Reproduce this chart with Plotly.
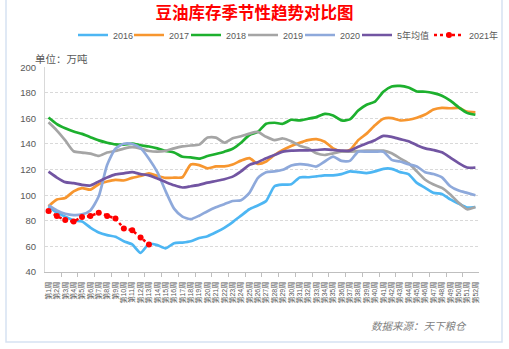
import plotly.graph_objects as go

weeks = list(range(1, 53))
week_labels = [f"第{w}周" for w in weeks]

s2016 = [91.4, 86.3, 83.2, 80.4, 79.4, 74.7, 70.9, 68.8, 67.5, 64.0,
         61.5, 55.0, 62.0, 61.0, 58.5, 62.5, 63.0, 64.0, 66.5, 68.0,
         71.0, 74.5, 79.0, 84.0, 89.0, 92.0, 95.5, 107.0, 108.3, 108.5,
         113.9, 114.0, 114.7, 115.5, 115.5, 116.5, 118.6, 118.0, 117.3, 118.6,
         120.6, 120.6, 118.0, 116.5, 109.6, 105.7, 101.8, 101.0, 96.7, 93.4,
         90.3, 90.8]
s2017 = [91.4, 96.6, 97.8, 103.0, 105.5, 104.3, 108.6, 110.7, 112.0, 111.5,
         113.5, 115.0, 117.0, 115.0, 113.5, 113.7, 114.0, 124.0, 123.5, 121.0,
         122.5, 122.5, 124.0, 127.0, 129.0, 124.5, 126.3, 131.4, 135.3, 138.4,
         140.9, 143.0, 143.8, 141.7, 136.6, 134.5, 135.3, 143.0, 148.1, 154.6,
         159.7, 160.2, 158.4, 158.9, 160.5, 163.0, 166.9, 168.2, 167.9, 168.2,
         165.3, 164.8]
s2018 = [160.7, 155.6, 152.3, 149.7, 147.9, 145.3, 142.8, 141.0, 139.7, 139.5,
         140.3, 139.0, 138.0, 136.6, 134.6, 133.4, 130.0, 129.5, 128.5, 130.6,
         132.2, 134.0, 136.3, 141.0, 147.0, 149.4, 155.8, 156.6, 155.8, 158.9,
         158.4, 159.7, 161.0, 163.5, 162.3, 158.4, 159.2, 166.1, 170.7, 173.1,
         180.8, 184.9, 185.4, 184.1, 181.0, 180.8, 179.7, 177.7, 173.8, 168.7,
         164.3, 162.8]
s2019 = [156.9, 150.5, 142.8, 134.3, 133.3, 132.5, 130.7, 133.3, 134.6, 136.4,
         137.5, 136.4, 134.5, 134.0, 134.6, 136.6, 138.1, 138.8, 139.5, 145.0,
         145.0, 141.0, 144.5, 146.0, 148.1, 149.4, 145.6, 143.0, 144.3, 142.2,
         138.6, 136.6, 132.7, 131.4, 132.7, 134.0, 134.0, 134.5, 134.8, 134.8,
         134.8, 132.7, 128.8, 125.0, 118.6, 112.1, 108.3, 105.7, 100.6, 94.1,
         89.0, 90.8]
s2020 = [92.2, 88.1, 85.5, 84.5, 85.0, 88.1, 99.1, 123.5, 136.4, 140.2,
         140.0, 136.9, 128.5, 118.0, 103.0, 89.5, 83.3, 81.3, 84.0, 87.5,
         90.5, 93.0, 95.5, 96.0, 101.8, 113.4, 118.0, 118.6, 119.8, 123.2,
         124.2, 123.7, 122.4, 126.3, 130.1, 126.8, 126.8, 134.0, 134.0, 134.0,
         134.0, 127.6, 126.3, 124.2, 122.4, 118.0, 116.5, 113.9, 107.0, 103.6,
         101.8, 100.0]
avg5 = [118.4, 113.8, 110.2, 109.4, 108.1, 107.6, 110.7, 113.8, 116.3, 117.1,
        118.0, 116.5, 115.5, 113.0, 110.3, 107.8, 106.0, 107.0, 108.0, 109.8,
        111.1, 112.5, 114.5, 118.6, 123.7, 125.8, 128.8, 131.4, 134.0, 134.8,
        135.0, 135.0, 135.3, 135.8, 135.3, 134.8, 134.8, 137.8, 140.4, 143.0,
        146.3, 145.6, 143.8, 142.2, 139.1, 136.6, 135.3, 133.5, 129.4, 125.0,
        121.6, 121.6]
s2021 = [87.6, 83.7, 80.6, 79.4, 83.0, 83.7, 86.3, 83.7, 81.7, 74.0,
         72.6, 67.0, 61.5]

FONT = "Liberation Sans, Noto Sans CJK SC, sans-serif"
GRAYTXT = "#595959"

names = ["2016", "2017", "2018", "2019", "2020", "5年均值"]
values = [s2016, s2017, s2018, s2019, s2020, avg5]
colors = ["#4DB6F3", "#F7962F", "#1DB02E", "#A5A5A5", "#8EA9DB", "#7255A2"]
legend_x_px = [73, 129, 186, 243, 300, 357, 429]
legend_ids = ["legend"] + [f"legend{i}" for i in range(2, 8)]

fig = go.Figure()
for i, (name, vals, color) in enumerate(zip(names, values, colors)):
    fig.add_trace(go.Scatter(
        x=weeks, y=vals, name=name, mode="lines", legend=legend_ids[i],
        line=dict(color=color, width=2.7, shape="spline", smoothing=0.6),
    ))
fig.add_trace(go.Scatter(
    x=weeks[:len(s2021)], y=s2021, name="2021年", mode="lines+markers", legend=legend_ids[6],
    line=dict(color="#FF0000", width=2.5, dash="dot"),
    marker=dict(size=6, color="#FF0000"),
))

legend_layouts = {}
for lid, px in zip(legend_ids, legend_x_px):
    legend_layouts[lid] = dict(orientation="h", xref="container", yref="container",
                               x=px / 509, y=1 - 35 / 349, xanchor="left", yanchor="middle",
                               itemwidth=30, font=dict(size=9, color=GRAYTXT),
                               bgcolor="rgba(0,0,0,0)")

fig.update_layout(
    width=509, height=349,
    margin=dict(l=45, r=30, t=64, b=77),
    paper_bgcolor="white", plot_bgcolor="white",
    font=dict(family=FONT, color=GRAYTXT),
    title=dict(text="豆油库存季节性趋势对比图", x=0.5, xref="container", xanchor="center",
               y=1 - 13 / 349, yref="container", yanchor="middle",
               font=dict(family="Noto Sans CJK SC", size=16.5, color="#FF0000", weight="bold")),
    showlegend=True,
    **legend_layouts,
)

fig.update_xaxes(
    range=[0.58, 52.43], tickmode="array", tickvals=weeks, ticktext=week_labels,
    tickangle=-90, tickfont=dict(size=7, color=GRAYTXT), ticks="", ticklabelstandoff=6,
    showline=True, linecolor="#BFBFBF", linewidth=1, showgrid=False, zeroline=False,
    minor=dict(tick0=0.5, dtick=2, ticks="outside", ticklen=4, tickcolor="#BFBFBF", showgrid=False),
)
fig.update_yaxes(
    range=[40, 200], tick0=0, dtick=20, tickfont=dict(size=9.5, color=GRAYTXT),
    ticks="", ticklabelstandoff=6,
    showgrid=True, gridcolor="#D9D9D9", griddash="3px,2px", gridwidth=1,
    showline=True, linecolor="#D9D9D9", linewidth=1, zeroline=False,
)

fig.add_annotation(text="单位：万吨", xref="paper", yref="paper",
                   x=(33 - 45) / 434, y=(272 - 55) / 208, xanchor="left", yanchor="middle",
                   showarrow=False, font=dict(family="Noto Sans CJK SC", size=10.5, color=GRAYTXT))
fig.add_annotation(text="数据来源：天下粮仓", xref="paper", yref="paper",
                   x=(419 - 45) / 434, y=(272 - 326) / 208, xanchor="center", yanchor="middle",
                   showarrow=False,
                   font=dict(family="Noto Sans CJK SC", size=10.5, color="#7F7F7F", style="italic"))
fig.add_shape(type="rect", xref="paper", yref="paper",
              x0=(6 - 45) / 434, x1=(502 - 45) / 434, y0=(272 - 343) / 208, y1=(272 + 5) / 208,
              line=dict(color="#D6E2F2", width=1.5), fillcolor="rgba(0,0,0,0)", layer="below")

fig.write_html("out.html")
